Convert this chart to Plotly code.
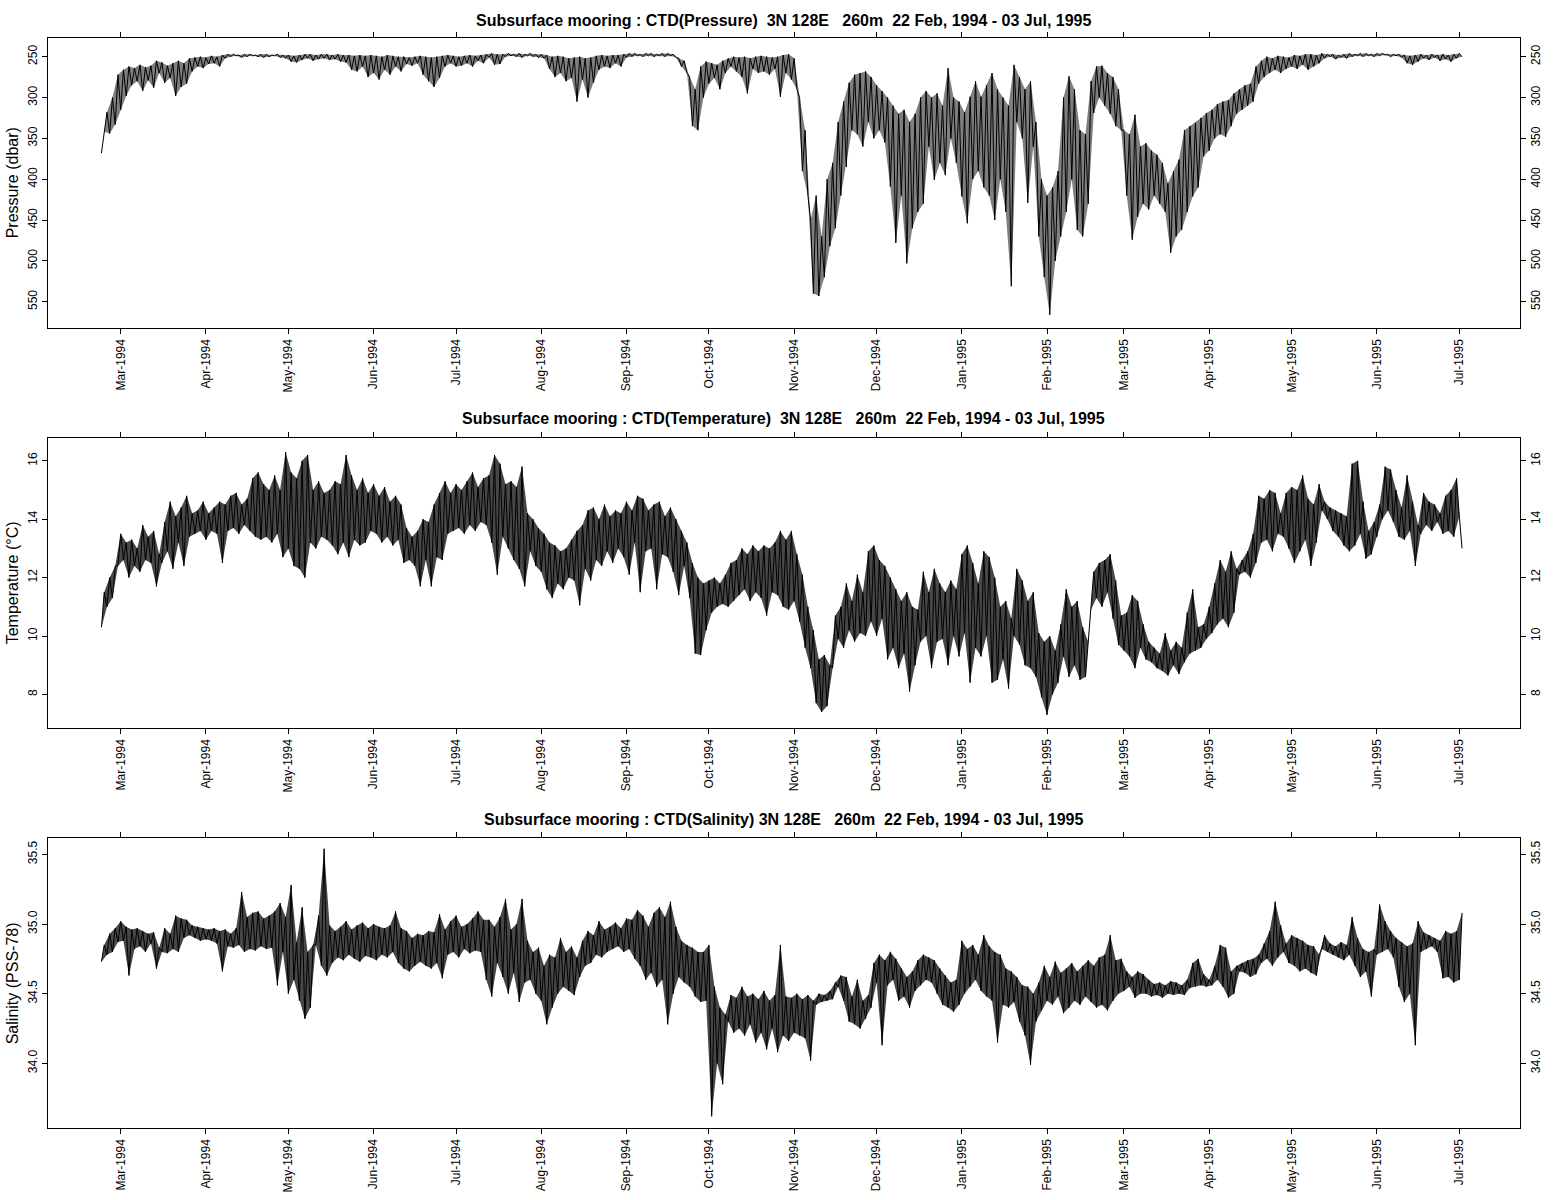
import pandas as pd
import plotly.graph_objects as go

# ---------------- data ----------------
START_DATE = "1994-02-22"          # first sample; samples below are 1 day apart (pairs a/b)
X_RANGE = ["1994-02-02 10:34", "1995-07-23 01:55"]

MONTH_TICKS = ["1994-03-01", "1994-04-01", "1994-05-01", "1994-06-01", "1994-07-01",
               "1994-08-01", "1994-09-01", "1994-10-01", "1994-11-01", "1994-12-01",
               "1995-01-01", "1995-02-01", "1995-03-01", "1995-04-01", "1995-05-01",
               "1995-06-01", "1995-07-01"]
MONTH_LABELS = ["Mar-1994", "Apr-1994", "May-1994", "Jun-1994", "Jul-1994", "Aug-1994",
                "Sep-1994", "Oct-1994", "Nov-1994", "Dec-1994", "Jan-1995", "Feb-1995",
                "Mar-1995", "Apr-1995", "May-1995", "Jun-1995", "Jul-1995"]

PRES_TICKS = [250, 300, 350, 400, 450, 500, 550]
TEMP_TICKS = [8, 10, 12, 14, 16]
SAL_TICKS = [34.0, 34.5, 35.0, 35.5]
SAL_LABELS = ["34.0", "34.5", "35.0", "35.5"]

PRES_RANGE = [582.5, 227.5]
TEMP_RANGE = [6.84, 16.77]
SAL_RANGE = [33.534, 35.615]

TITLES = [
    "Subsurface mooring : CTD(Pressure)  3N 128E   260m  22 Feb, 1994 - 03 Jul, 1995",
    "Subsurface mooring : CTD(Temperature)  3N 128E   260m  22 Feb, 1994 - 03 Jul, 1995",
    "Subsurface mooring : CTD(Salinity) 3N 128E   260m  22 Feb, 1994 - 03 Jul, 1995",
]
YTITLES = ["Pressure (dbar)", "Temperature (\u00b0C)", "Salinity (PSS-78)"]

# pressure (dbar): first and second value of each 2-day pair
pres_a = [368, 318, 300, 272, 266, 262, 264, 260, 263, 261,
          255, 257, 261, 258, 255, 258, 252, 251, 250, 251,
          249, 250, 248, 247, 247, 248, 247, 247, 248, 247,
          247, 248, 247, 248, 248, 249, 248, 247, 247, 248,
          247, 247, 248, 247, 248, 248, 249, 248, 249, 248,
          249, 250, 248, 249, 250, 250, 251, 250, 249, 250,
          251, 250, 249, 248, 249, 250, 249, 248, 249, 248,
          247, 246, 247, 247, 246, 247, 246, 247, 246, 247,
          247, 248, 250, 249, 250, 252, 251, 250, 252, 251,
          249, 248, 249, 248, 248, 247, 246, 246, 247, 246,
          246, 247, 246, 246, 247, 252, 255, 275, 290, 262,
          256, 258, 260, 255, 252, 250, 251, 250, 252, 250,
          249, 250, 251, 250, 248, 247, 252, 300, 340, 450,
          420, 470, 400, 380, 330, 305, 282, 272, 270, 268,
          275, 285, 292, 300, 310, 320, 315, 330, 320, 300,
          292, 300, 295, 310, 264, 300, 305, 318, 299, 280,
          299, 285, 270, 290, 300, 310, 260, 275, 290, 280,
          330, 400, 420, 410, 390, 300, 274, 290, 340, 345,
          280, 262, 261, 270, 275, 290, 340, 345, 321, 360,
          356, 365, 370, 380, 405, 390, 376, 340, 335, 331,
          325, 319, 315, 308, 305, 303, 295, 290, 285, 283,
          262, 255, 250, 252, 249, 250, 251, 248, 249, 247,
          247, 248, 246, 247, 247, 248, 247, 246, 247, 246,
          246, 247, 246, 246, 247, 247, 247, 248, 249, 248,
          247, 248, 247, 248, 247, 248, 247, 246]
pres_b = [342, 344, 333, 315, 298, 285, 280, 292, 279, 288,
          270, 282, 276, 298, 287, 283, 268, 262, 264, 259,
          258, 262, 252, 250, 249, 251, 250, 249, 250, 251,
          250, 249, 251, 252, 256, 257, 254, 252, 255, 253,
          252, 254, 253, 256, 257, 266, 268, 262, 275, 270,
          278, 266, 272, 262, 268, 259, 261, 258, 272, 280,
          287, 276, 262, 258, 262, 261, 258, 262, 255, 258,
          251, 260, 259, 250, 249, 250, 251, 249, 250, 251,
          252, 265, 275, 270, 280, 276, 305, 278, 300, 282,
          266, 262, 264, 258, 262, 251, 250, 249, 250, 249,
          250, 249, 250, 249, 251, 262, 270, 335, 340, 300,
          283, 276, 290, 270, 262, 268, 275, 295, 265, 270,
          268, 272, 265, 299, 270, 278, 290, 390, 420, 540,
          543, 520, 482, 460, 420, 385, 340, 345, 360, 330,
          350, 340, 355, 409, 478, 420, 503, 460, 440, 430,
          360, 401, 380, 395, 350, 380, 421, 454, 400, 390,
          410, 420, 450, 400, 440, 531, 330, 350, 429, 360,
          470, 520, 566, 500, 470, 440, 400, 462, 470, 430,
          319, 300, 310, 320, 335, 340, 420, 474, 446, 430,
          437, 420, 430, 440, 490, 470, 462, 440, 421, 410,
          372, 365, 350, 345, 348, 335, 320, 315, 310, 305,
          283, 275, 270, 266, 270, 265, 262, 265, 260, 266,
          262, 258, 252, 250, 253, 251, 252, 250, 249, 250,
          249, 250, 249, 248, 250, 249, 251, 258, 260, 256,
          252, 254, 251, 255, 253, 256, 252, 250]

# temperature (deg C)
temp_a = [10.3, 11.0, 11.3, 12.4, 12.6, 12.0, 12.4, 12.2, 12.6, 12.5,
          11.7, 12.5, 12.9, 12.3, 13.2, 12.4, 13.4, 13.5, 13.6, 13.3,
          13.6, 13.5, 12.5, 13.6, 13.7, 13.5, 13.8, 13.6, 13.4, 13.3,
          13.4, 13.2, 13.5, 12.7, 13.0, 12.4, 12.3, 12.0, 13.2, 13.0,
          13.4, 13.3, 13.1, 12.8, 13.2, 12.7, 13.3, 13.1, 13.2, 13.6,
          13.5, 13.2, 13.4, 13.1, 13.3, 12.5, 12.6, 12.4, 11.7, 12.6,
          11.7, 12.7, 12.6, 13.5, 13.6, 13.7, 13.5, 13.8, 13.6, 13.9,
          13.8, 13.2, 12.1, 13.4, 13.0, 12.6, 12.3, 11.7, 12.9, 12.4,
          12.2, 11.6, 11.3, 11.8, 11.6, 12.0, 11.9, 11.05, 12.3, 11.9,
          12.6, 12.4, 12.9, 12.5, 13.0, 12.7, 12.1, 13.2, 11.5, 12.9,
          13.0, 11.6, 12.8, 12.7, 12.2, 11.4, 12.4, 11.3, 9.4, 9.35,
          10.2, 10.8, 11.0, 11.1, 11.0, 11.2, 11.4, 11.6, 11.2, 11.5,
          11.3, 10.7, 11.5, 11.4, 11.0, 10.9, 11.2, 10.5, 9.6, 8.9,
          7.7, 7.4, 7.6, 8.9, 9.9, 9.6, 10.2, 9.8, 10.1, 10.0,
          10.5, 10.0, 10.6, 9.2, 9.6, 8.9, 9.4, 8.1, 9.0, 9.8,
          10.0, 8.9, 9.8, 9.9, 9.0, 10.0, 9.3, 10.1, 8.4, 9.6,
          9.3, 10.0, 8.4, 8.5, 9.2, 8.2, 10.0, 9.7, 9.0, 8.9,
          8.6, 7.9, 7.3, 8.0, 8.4, 9.3, 8.6, 9.0, 8.5, 8.6,
          10.9, 11.3, 11.0, 11.5, 10.6, 9.7, 9.5, 9.3, 8.9, 9.6,
          9.2, 9.1, 8.9, 8.8, 8.65, 9.0, 8.7, 9.1, 9.4, 9.5,
          9.6, 9.9, 10.1, 10.4, 10.6, 10.3, 10.8, 12.1, 12.2, 12.0,
          12.5, 13.2, 13.3, 12.9, 13.5, 13.4, 13.0, 12.5, 12.9, 13.3,
          12.4, 13.2, 14.3, 14.0, 13.6, 13.4, 13.1, 12.9, 13.1, 13.5,
          12.65, 12.8, 13.4, 14.0, 14.3, 13.9, 13.4, 13.3, 13.6, 12.4,
          13.5, 13.8, 13.6, 13.9, 13.5, 13.6, 13.4, 14.1]
temp_b = [11.5, 12.0, 12.4, 13.5, 13.2, 13.3, 13.0, 13.8, 13.4, 13.6,
          12.8, 13.9, 14.6, 14.1, 14.4, 14.8, 14.2, 14.3, 14.6, 14.2,
          14.4, 14.6, 14.5, 14.8, 14.9, 14.5, 14.7, 15.4, 15.6, 15.2,
          15.0, 15.5, 15.0, 16.3, 15.6, 15.4, 16.0, 16.2, 15.0, 15.3,
          14.9, 15.0, 15.3, 15.2, 16.2, 15.5, 15.0, 15.4, 14.9, 15.2,
          14.8, 15.1, 14.6, 14.8, 14.5, 13.7, 13.4, 13.6, 14.0, 13.9,
          14.5, 14.9, 15.3, 14.9, 15.2, 15.0, 15.3, 15.6, 15.1, 15.4,
          15.5, 16.2, 15.9, 15.2, 15.3, 15.1, 15.8, 14.2, 14.0, 13.7,
          13.5, 13.2, 13.1, 12.9, 13.0, 13.3, 13.6, 13.8, 14.3, 14.4,
          14.0, 14.5, 14.1, 14.3, 14.2, 14.6, 14.3, 14.8, 14.7, 14.3,
          14.5, 14.6, 14.1, 14.4, 14.0, 13.6, 13.2, 12.5, 12.0, 11.8,
          11.9, 12.0, 11.8, 12.1, 12.5, 12.6, 13.0, 12.8, 13.1, 12.9,
          13.1, 13.0, 13.2, 13.6, 13.3, 13.6, 12.8, 12.1, 11.0, 10.2,
          9.2, 9.35, 9.0, 10.7, 11.0, 11.8, 11.2, 12.1, 11.5, 12.9,
          13.1, 12.6, 12.4, 12.0, 11.6, 11.2, 11.5, 11.0, 10.9, 12.2,
          11.5, 12.3, 11.8, 11.5, 11.9, 11.6, 12.8, 13.1, 12.5, 11.8,
          12.9, 12.7, 12.0, 11.0, 11.2, 10.6, 12.3, 11.9, 11.2, 11.5,
          10.1, 9.8, 10.0, 9.5, 10.4, 11.6, 11.0, 11.2, 10.3, 9.8,
          12.2, 12.5, 12.6, 12.8, 11.9, 10.7, 10.8, 11.4, 11.2, 10.4,
          9.8, 9.6, 9.4, 10.1, 9.5, 9.8, 9.6, 10.8, 11.6, 10.3,
          10.4, 11.0, 11.8, 12.6, 12.2, 12.9, 12.3, 12.6, 12.9, 13.5,
          14.8, 14.7, 15.0, 14.9, 14.2, 14.9, 15.1, 15.0, 15.5, 14.7,
          14.5, 15.2, 14.6, 14.4, 14.3, 14.2, 14.1, 15.9, 16.0, 14.6,
          13.6, 13.9, 14.5, 15.8, 15.7, 15.0, 14.4, 15.5, 14.6, 13.8,
          14.9, 14.6, 14.5, 14.2, 14.8, 15.0, 15.4, 13.0]

# salinity (PSS-78)
sal_a = [34.73, 34.78, 34.80, 34.87, 34.88, 34.63, 34.82, 34.84, 34.80, 34.86,
         34.68, 34.80, 34.79, 34.82, 34.80, 34.90, 34.92, 34.90, 34.88, 34.89,
         34.88, 34.86, 34.66, 34.84, 34.83, 34.85, 34.80, 34.82, 34.81, 34.84,
         34.82, 34.83, 34.56, 34.80, 34.50, 34.60, 34.45, 34.32, 34.40, 34.85,
         34.70, 34.63, 34.72, 34.76, 34.74, 34.78, 34.75, 34.73, 34.77, 34.76,
         34.74, 34.78, 34.76, 34.80, 34.72, 34.68, 34.66, 34.70, 34.73, 34.70,
         34.68, 34.72, 34.61, 34.78, 34.80, 34.76, 34.82, 34.79, 34.81, 34.80,
         34.60, 34.48, 34.72, 34.62, 34.50, 34.65, 34.44, 34.58, 34.60, 34.50,
         34.45, 34.28, 34.40, 34.50, 34.55, 34.52, 34.49, 34.62, 34.70, 34.72,
         34.78, 34.76, 34.80, 34.82, 34.84, 34.80, 34.82, 34.75, 34.70, 34.60,
         34.65, 34.55, 34.60, 34.28, 34.50, 34.62, 34.58, 34.55, 34.48, 34.44,
         34.45, 33.62, 34.00, 33.85, 34.30, 34.22, 34.25, 34.20, 34.28, 34.15,
         34.22, 34.10, 34.25, 34.08, 34.20, 34.16, 34.22, 34.20, 34.18, 34.02,
         34.42, 34.44, 34.45, 34.46, 34.55, 34.45, 34.30, 34.28, 34.25, 34.32,
         34.40, 34.58, 34.13, 34.56, 34.60, 34.45, 34.48, 34.40, 34.52, 34.56,
         34.60, 34.58, 34.50, 34.42, 34.40, 34.37, 34.42, 34.50, 34.55, 34.60,
         34.52, 34.48, 34.45, 34.15, 34.42, 34.40, 34.44, 34.30, 34.20, 33.99,
         34.30, 34.38, 34.45, 34.42, 34.48, 34.36, 34.40, 34.45, 34.42, 34.48,
         34.44, 34.40, 34.42, 34.38, 34.45, 34.50, 34.52, 34.55, 34.47, 34.50,
         34.50, 34.48, 34.49, 34.47, 34.50, 34.49, 34.50, 34.49, 34.54, 34.55,
         34.56, 34.55, 34.56, 34.60, 34.55, 34.47, 34.50, 34.66, 34.65, 34.62,
         34.64, 34.72, 34.75, 34.70, 34.76, 34.80, 34.72, 34.70, 34.66, 34.68,
         34.65, 34.63, 34.82, 34.80, 34.78, 34.76, 34.74, 34.78, 34.70, 34.62,
         34.66, 34.48, 34.78, 34.80, 34.82, 34.76, 34.55, 34.44, 34.50, 34.13,
         34.80, 34.82, 34.84, 34.80, 34.61, 34.62, 34.58, 34.60]
sal_b = [34.85, 34.93, 34.97, 35.02, 34.98, 34.96, 34.97, 34.95, 34.93, 34.94,
         34.83, 34.97, 34.93, 35.06, 35.04, 35.03, 34.99, 34.98, 34.97, 34.96,
         34.97, 34.95, 34.96, 34.93, 34.97, 35.23, 35.05, 35.08, 35.09, 35.04,
         35.06, 35.09, 35.15, 35.05, 35.28, 34.87, 35.12, 34.80, 34.85, 35.06,
         35.54, 34.99, 34.95, 34.98, 35.02, 34.96, 34.99, 35.01, 34.97, 35.00,
         34.98, 34.97, 34.99, 35.09, 34.97, 34.95, 34.90, 34.93, 34.92, 34.95,
         34.94, 35.07, 34.96, 35.02, 35.06, 34.98, 35.00, 35.04, 35.09, 35.03,
         35.03, 34.98, 35.05, 35.18, 34.96, 35.00, 35.18, 34.88, 34.80, 34.83,
         34.70, 34.78, 34.76, 34.90, 34.80, 34.84, 34.76, 34.88, 34.95, 34.92,
         35.02, 34.96, 34.98, 35.01, 34.97, 35.04, 35.03, 35.10, 35.06, 34.98,
         35.08, 35.12, 35.05, 35.16, 34.98, 34.88, 34.85, 34.83, 34.80, 34.80,
         34.85, 34.55, 34.40, 34.35, 34.49, 34.47, 34.55, 34.48, 34.50, 34.46,
         34.52, 34.45, 34.49, 34.85, 34.48, 34.47, 34.50, 34.46, 34.49, 34.45,
         34.50, 34.49, 34.52, 34.58, 34.63, 34.62, 34.48, 34.60, 34.45, 34.49,
         34.72, 34.78, 34.74, 34.80, 34.75, 34.68, 34.62, 34.66, 34.74, 34.78,
         34.76, 34.74, 34.68, 34.63, 34.58, 34.60, 34.88, 34.82, 34.85, 34.78,
         34.92, 34.84, 34.80, 34.78, 34.68, 34.66, 34.62, 34.56, 34.55, 34.50,
         34.58, 34.70, 34.62, 34.73, 34.65, 34.68, 34.72, 34.66, 34.70, 34.74,
         34.70, 34.76, 34.78, 34.92, 34.74, 34.75, 34.66, 34.62, 34.66, 34.64,
         34.60, 34.57, 34.58, 34.56, 34.59, 34.58, 34.56, 34.60, 34.72, 34.75,
         34.64, 34.60, 34.70, 34.85, 34.83, 34.66, 34.70, 34.72, 34.74, 34.75,
         34.78, 34.86, 34.95, 35.16, 34.99, 34.86, 34.92, 34.90, 34.88, 34.85,
         34.84, 34.78, 34.92, 34.86, 34.84, 34.87, 34.85, 35.05, 34.90, 34.82,
         34.80, 34.82, 35.14, 35.02, 34.95, 34.90, 34.87, 34.84, 34.86, 35.02,
         34.94, 34.92, 34.90, 34.88, 34.95, 34.93, 34.95, 35.08]


def interleave(a, b):
    out = []
    for u, v in zip(a, b):
        out.extend([u, v])
    return out


# ---------------- layout geometry (page pixels) ----------------
W, H = 1558, 1200
FONT = "Liberation Sans, Arial, Helvetica, sans-serif"


def fx(p):
    return p / W


def fy(p):
    return 1 - p / H


XDOM = [fx(47.7), fx(1520.0)]
PANELS = [(38.3, 328.3), (438.3, 728.3), (838.3, 1128.3)]
YDOMS = [[fy(b), fy(t)] for t, b in PANELS]
FILLS = ["rgba(0,0,0,0.5)", "rgba(0,0,0,0.72)", "rgba(0,0,0,0.72)"]

fig = go.Figure()
pairs = [(pres_a, pres_b), (temp_a, temp_b), (sal_a, sal_b)]
for i, (a, b) in enumerate(pairs):
    xa = "x" if i == 0 else f"x{i + 1}"
    ya = "y" if i == 0 else f"y{i + 1}"
    vals = interleave(a, b)
    times = pd.date_range(START_DATE, periods=len(vals), freq="D")
    # shaded band between the two readings of each pair (dense record look)
    fig.add_trace(go.Scatter(x=times[0::2], y=a, mode="lines", xaxis=xa, yaxis=ya,
                             line=dict(width=0, color="rgba(0,0,0,0)"),
                             showlegend=False, hoverinfo="skip"))
    fig.add_trace(go.Scatter(x=times[1::2], y=b, mode="lines", xaxis=xa, yaxis=ya,
                             line=dict(width=0, color="rgba(0,0,0,0)"), fill="tonexty",
                             fillcolor=FILLS[i], showlegend=False, hoverinfo="skip"))
    fig.add_trace(go.Scatter(x=times, y=vals, mode="lines", xaxis=xa, yaxis=ya,
                             line=dict(color="black", width=1), showlegend=False,
                             hoverinfo="skip"))
    # invisible companion on the right-hand axis so it is rendered
    fig.add_trace(go.Scatter(x=times[:1], y=vals[:1], mode="markers", xaxis=xa,
                             yaxis=f"y{i + 4}", marker=dict(opacity=0),
                             showlegend=False, hoverinfo="skip"))

tickfont = dict(family=FONT, size=12, color="black")
layout = dict(width=W, height=H, margin=dict(l=0, r=0, t=0, b=0, pad=0),
              template="none", paper_bgcolor="white", plot_bgcolor="white",
              showlegend=False, font=dict(family=FONT, color="black"))

yinfo = [(PRES_TICKS, [str(v) for v in PRES_TICKS], PRES_RANGE),
         (TEMP_TICKS, [str(v) for v in TEMP_TICKS], TEMP_RANGE),
         (SAL_TICKS, SAL_LABELS, SAL_RANGE)]

for i in range(3):
    xk = "xaxis" if i == 0 else f"xaxis{i + 1}"
    yk = "yaxis" if i == 0 else f"yaxis{i + 1}"
    xa = "x" if i == 0 else f"x{i + 1}"
    ya = "y" if i == 0 else f"y{i + 1}"
    tv, tt, rng = yinfo[i]
    layout[xk] = dict(domain=XDOM, anchor=ya, type="date", range=X_RANGE,
                      tickmode="array", tickvals=MONTH_TICKS, ticktext=MONTH_LABELS,
                      tickangle=-90, ticks="outside", ticklen=5, tickwidth=1,
                      tickcolor="black", showline=True, linecolor="black", linewidth=1,
                      mirror="allticks", showgrid=False, zeroline=False,
                      automargin=False, tickfont=tickfont)
    layout[yk] = dict(domain=YDOMS[i], anchor=xa, range=rng, tickmode="array",
                      tickvals=tv, ticktext=tt, tickangle=-90, ticks="outside",
                      ticklen=5, tickwidth=1, tickcolor="black", showline=True,
                      linecolor="black", linewidth=1, mirror=True, showgrid=False,
                      zeroline=False, automargin=False, tickfont=tickfont)
    layout[f"yaxis{i + 4}"] = dict(overlaying=ya, anchor=xa, side="right", range=rng,
                                   tickmode="array", tickvals=tv, ticktext=tt,
                                   tickangle=-90, ticks="outside", ticklen=5,
                                   tickwidth=1, tickcolor="black", showline=False,
                                   showgrid=False, zeroline=False, automargin=False,
                                   tickfont=tickfont)

fig.update_layout(**layout)

xc = (XDOM[0] + XDOM[1]) / 2
title_y = [20, 419, 819]
ann = []
for i in range(3):
    ann.append(dict(text="<b>" + TITLES[i].replace("  ", "\u00a0\u00a0") + "</b>",
                    x=xc, y=fy(title_y[i]), xref="paper", yref="paper",
                    xanchor="center", yanchor="middle", showarrow=False,
                    font=dict(family=FONT, size=16, color="black")))
    t, b = PANELS[i]
    ann.append(dict(text=YTITLES[i], x=fx(12), y=fy((t + b) / 2), xref="paper",
                    yref="paper", xanchor="center", yanchor="middle", textangle=-90,
                    showarrow=False, font=dict(family=FONT, size=16, color="black")))
fig.update_layout(annotations=ann)

fig.write_html("out.html", config={"displayModeBar": False},
               post_script="document.body.style.margin='0px';")
